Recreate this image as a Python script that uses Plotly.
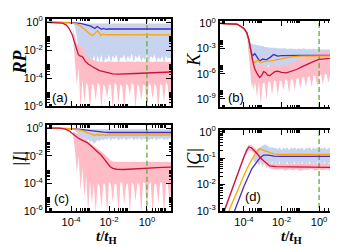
import numpy as np
import plotly.graph_objects as go

# ---------------- data (log10 of t/t_H and log10 of the quantity) ----------------
# common x-grid used by the fluctuation bands (log10 t/t_H)
band_lt = [-3.9,-3.8,-3.7,-3.6,-3.5,-3.4,-3.3,-3.2,-3.1,-3.0,-2.9,-2.8,-2.7,-2.6,-2.5,-2.4,-2.3,-2.2,-2.1,-2.0,
           -1.9,-1.8,-1.7,-1.6,-1.5,-1.4,-1.3,-1.2,-1.1,-1.0,-0.9,-0.8,-0.7,-0.6,-0.5,-0.4,-0.3,-0.2,-0.1,0.0,
           0.1,0.2,0.3,0.4,0.5,0.6,0.7,0.8,0.9,1.0,1.1,1.2,1.3]

# ---- panel (a): RP ----
a_red_lt = [-5.3,-4.7,-4.45,-4.25,-4.1,-3.95,-3.85,-3.73,-3.62,-3.52,-3.45,-3.38,-3.26,-3.1,-2.95,-2.74,-2.5,-2.25,-2.05,-1.8,-1.5,-1.2,-0.9,-0.6,-0.3,0.0,0.3,0.6,0.9,1.27]
a_red_ly = [0.0,-0.01,-0.06,-0.2,-0.45,-0.85,-1.3,-1.9,-2.3,-2.42,-2.42,-2.5,-2.78,-2.98,-3.12,-3.28,-3.45,-3.55,-3.62,-3.68,-3.7,-3.7,-3.68,-3.66,-3.64,-3.62,-3.6,-3.58,-3.57,-3.55]
a_pur_lt = [-5.3,-4.5,-4.0,-3.5,-3.2,-3.0,-2.85,-2.75,-2.62,-2.5,-2.4,-2.3,-2.15,-2.0,-1.0,0.0,1.27]
a_pur_ly = [0.0,-0.01,-0.03,-0.08,-0.16,-0.26,-0.36,-0.45,-0.3,-0.42,-0.5,-0.44,-0.5,-0.48,-0.48,-0.48,-0.48]
a_org_lt = [-5.3,-4.5,-4.0,-3.7,-3.47,-3.2,-3.0,-2.85,-2.7,-2.6,-2.5,-2.42,-2.3,-2.15,-2.0,0.0,1.27]
a_org_ly = [0.0,-0.01,-0.05,-0.12,-0.3,-0.6,-0.85,-0.95,-0.75,-0.6,-0.8,-0.95,-0.85,-0.9,-0.88,-0.88,-0.9]
a_blue_up = [-0.02,-0.02,-0.03,-0.04,-0.05,-0.06,-0.07,-0.08,-0.08,-0.08,-0.08,-0.08,-0.08,-0.08,-0.08,-0.08,-0.08,-0.08,-0.08,-0.08,
             -0.08,-0.08,-0.08,-0.08,-0.08,-0.08,-0.08,-0.08,-0.08,-0.08,-0.08,-0.08,-0.08,-0.08,-0.08,-0.08,-0.08,-0.08,-0.08,-0.08,
             -0.08,-0.08,-0.08,-0.08,-0.08,-0.08,-0.08,-0.08,-0.08,-0.08,-0.08,-0.08,-0.08]
a_blue_lo = [-0.05,-0.3,-0.9,-1.8,-2.6,-1.9,-3.2,-2.3,-3.4,-2.5,-3.0,-2.3,-2.9,-2.4,-2.8,-2.3,-3.1,-2.5,-2.7,-2.3,
             -2.9,-2.4,-2.6,-2.3,-3.0,-2.5,-2.6,-2.3,-2.8,-2.4,-2.7,-2.2,-2.9,-2.4,-2.6,-2.3,-2.8,-2.5,-2.7,-2.3,
             -2.9,-2.4,-2.6,-2.3,-2.8,-2.5,-2.7,-2.4,-2.9,-2.4,-2.6,-2.5,-2.7]
a_pink_up = [-0.5,-1.0,-1.5,-1.7,-1.6,-1.8,-2.1,-2.3,-2.5,-2.6,-2.65,-2.7,-2.75,-2.8,-2.78,-2.82,-2.8,-2.85,-2.8,-2.78,
             -2.82,-2.8,-2.85,-2.8,-2.78,-2.82,-2.8,-2.84,-2.8,-2.78,-2.82,-2.8,-2.85,-2.8,-2.78,-2.82,-2.8,-2.84,-2.8,-2.78,
             -2.82,-2.8,-2.85,-2.8,-2.78,-2.82,-2.8,-2.84,-2.8,-2.82,-2.85,-2.8,-2.85]
a_pink_lo = [-1.0,-2.5,-4.5,-3.2,-6.2,-4.0,-5.8,-4.3,-4.6,-6.2,-4.4,-4.5,-5.6,-4.3,-4.5,-6.2,-4.4,-4.6,-5.4,-4.4,
             -4.5,-6.2,-4.3,-4.5,-5.8,-4.4,-4.6,-6.2,-4.4,-4.5,-5.2,-4.3,-4.5,-6.2,-4.4,-4.6,-5.6,-4.4,-4.5,-6.2,
             -4.3,-4.5,-5.5,-4.4,-4.6,-6.2,-4.4,-4.5,-5.7,-4.3,-4.5,-6.2,-4.5]

# ---- panel (b): K ----
b_red_lt = [-5.3,-4.6,-4.37,-4.2,-4.0,-3.85,-3.74,-3.65,-3.58,-3.5,-3.42,-3.3,-3.16,-3.05,-2.95,-2.85,-2.75,-2.63,-2.5,-2.35,-2.2,-2.0,-1.74,-1.5,-1.2,-0.9,-0.53,-0.25,0.0,0.4,0.74,1.27]
b_red_ly = [0.0,-0.02,-0.1,-0.3,-0.6,-1.1,-1.9,-3.0,-4.0,-4.8,-5.4,-6.0,-6.45,-6.2,-5.75,-5.85,-6.15,-6.25,-6.0,-5.75,-5.7,-5.85,-5.9,-5.75,-5.5,-5.15,-4.75,-4.5,-4.3,-4.2,-4.1,-4.0]
b_pur_lt = [-5.3,-4.6,-4.37,-4.2,-4.0,-3.85,-3.74,-3.65,-3.55,-3.42,-3.3,-3.16,-3.0,-2.8,-2.6,-2.42,-2.2,-2.0,-1.0,0.0,1.27]
b_pur_ly = [0.0,-0.02,-0.1,-0.3,-0.6,-1.1,-1.9,-3.0,-3.9,-3.6,-4.1,-4.5,-4.25,-4.35,-4.05,-3.72,-3.9,-3.85,-3.82,-3.8,-3.8]
b_org_lt = [-5.3,-4.6,-4.37,-4.2,-4.0,-3.85,-3.74,-3.65,-3.55,-3.45,-3.35,-3.25,-3.1,-2.95,-2.8,-2.6,-2.3,-2.0,-1.5,-1.0,0.0,1.27]
b_org_ly = [0.0,-0.02,-0.1,-0.3,-0.6,-1.1,-1.9,-3.0,-4.4,-4.75,-4.5,-4.4,-4.7,-4.6,-4.5,-4.5,-4.35,-4.2,-4.0,-3.9,-3.85,-3.85]
b_blue_up = [-0.9,-1.4,-2.0,-2.4,-2.5,-2.5,-2.6,-2.6,-2.7,-2.7,-2.8,-2.8,-2.85,-2.9,-2.9,-2.95,-2.9,-3.0,-2.95,-3.0,
             -3.0,-2.95,-3.05,-3.0,-3.0,-3.05,-3.0,-3.1,-3.0,-3.05,-3.05,-3.0,-3.1,-3.05,-3.05,-3.1,-3.0,-3.1,-3.05,-3.1,
             -3.1,-3.05,-3.1,-3.1,-3.05,-3.1,-3.1,-3.15,-3.1,-3.1,-3.15,-3.1,-3.1]
b_blue_lo = [-1.1,-2.0,-4.5,-7.7,-5.8,-7.4,-5.5,-6.8,-5.2,-6.3,-5.0,-5.8,-4.9,-5.6,-5.0,-6.0,-5.0,-5.5,-4.9,-5.8,
             -5.0,-5.4,-4.9,-5.9,-5.0,-5.5,-4.8,-5.7,-5.0,-5.3,-4.9,-5.8,-5.0,-5.4,-4.8,-5.6,-5.0,-5.3,-4.9,-5.8,
             -5.0,-5.4,-4.8,-5.6,-5.0,-5.3,-4.9,-5.7,-5.0,-5.4,-4.8,-5.5,-5.0]
b_pink_up = [-1.2,-2.2,-3.5,-4.3,-4.6,-4.9,-5.0,-5.1,-5.1,-5.1,-5.1,-5.2,-5.2,-5.1,-5.1,-5.0,-5.0,-5.0,-5.0,-5.0,
             -5.0,-4.95,-4.9,-4.85,-4.8,-4.7,-4.6,-4.5,-4.4,-4.3,-4.2,-4.1,-4.0,-3.9,-3.8,-3.7,-3.6,-3.55,-3.5,-3.45,
             -3.4,-3.4,-3.35,-3.35,-3.3,-3.3,-3.3,-3.25,-3.25,-3.25,-3.2,-3.2,-3.2]
b_pink_lo = [-1.3,-2.4,-4.2,-6.5,-8.0,-7.0,-8.8,-7.0,-9.7,-7.2,-7.0,-9.2,-6.9,-7.0,-8.5,-6.8,-6.9,-8.6,-6.8,-6.9,
             -8.0,-6.7,-6.8,-8.3,-6.6,-6.7,-8.0,-6.6,-6.5,-7.8,-6.5,-6.4,-7.6,-6.4,-6.3,-7.6,-6.2,-6.3,-7.5,-6.2,
             -6.1,-7.3,-6.0,-6.1,-7.1,-6.0,-5.9,-7.1,-5.9,-6.0,-6.9,-5.9,-6.0]

# ---- panel (c): |I| ----
c_red_lt = [-5.3,-4.6,-4.3,-4.1,-3.95,-3.8,-3.65,-3.5,-3.4,-3.3,-3.15,-2.94,-2.7,-2.42,-2.25,-2.1,-1.95,-1.8,-1.6,-1.2,-0.8,-0.4,0.0,0.4,0.8,1.27]
c_red_ly = [0.0,-0.01,-0.08,-0.2,-0.38,-0.55,-0.7,-0.82,-0.88,-0.92,-1.05,-1.3,-1.6,-1.95,-2.25,-2.55,-2.78,-2.92,-2.98,-3.0,-2.98,-2.95,-2.9,-2.88,-2.85,-2.82]
c_pur_lt = [-5.3,-4.5,-4.0,-3.5,-3.0,-2.7,-2.5,-2.3,-2.0,0.0,1.27]
c_pur_ly = [0.0,-0.01,-0.04,-0.1,-0.2,-0.27,-0.3,-0.3,-0.32,-0.32,-0.32]
c_org_lt = [-5.3,-4.5,-4.0,-3.5,-3.2,-3.0,-2.85,-2.75,-2.62,-2.5,-2.35,-2.2,-2.0,0.0,1.27]
c_org_ly = [0.0,-0.01,-0.05,-0.15,-0.28,-0.38,-0.48,-0.55,-0.45,-0.52,-0.48,-0.52,-0.5,-0.5,-0.5]
c_blue_up = [-0.02,-0.02,-0.03,-0.04,-0.05,-0.06,-0.07,-0.08,-0.08,-0.08,-0.08,-0.08,-0.08,-0.08,-0.08,-0.08,-0.08,-0.08,-0.08,-0.08,
             -0.08,-0.08,-0.08,-0.08,-0.08,-0.08,-0.08,-0.08,-0.08,-0.08,-0.08,-0.08,-0.08,-0.08,-0.08,-0.08,-0.08,-0.08,-0.08,-0.08,
             -0.08,-0.08,-0.08,-0.08,-0.08,-0.08,-0.08,-0.08,-0.08,-0.08,-0.08,-0.08,-0.08]
c_blue_lo = [-0.1,-0.2,-0.3,-0.45,-0.6,-0.8,-0.7,-0.95,-0.8,-1.0,-0.9,-1.15,-1.0,-0.85,-0.95,-0.8,-0.9,-0.75,-0.85,-0.7,
             -0.9,-0.75,-0.8,-0.7,-0.9,-0.75,-0.85,-0.7,-0.9,-0.75,-0.8,-0.7,-0.88,-0.75,-0.85,-0.7,-0.9,-0.75,-0.8,-0.7,
             -0.88,-0.75,-0.85,-0.7,-0.9,-0.75,-0.8,-0.7,-0.88,-0.75,-0.85,-0.72,-0.8]
c_pink_up = [-0.25,-0.3,-0.35,-0.45,-0.55,-0.65,-0.75,-0.85,-0.95,-1.05,-1.15,-1.25,-1.35,-1.45,-1.55,-1.65,-1.8,-1.95,-2.1,-2.25,
             -2.35,-2.42,-2.45,-2.43,-2.46,-2.44,-2.45,-2.43,-2.47,-2.44,-2.45,-2.43,-2.46,-2.44,-2.45,-2.43,-2.46,-2.44,-2.45,-2.43,
             -2.46,-2.44,-2.45,-2.43,-2.46,-2.44,-2.45,-2.43,-2.46,-2.44,-2.45,-2.43,-2.45]
c_pink_lo = [-0.5,-1.5,-3.2,-2.0,-4.5,-2.8,-5.0,-3.5,-6.2,-3.8,-5.5,-4.0,-6.2,-4.0,-4.2,-5.8,-4.0,-4.1,-6.2,-3.9,
             -4.1,-5.4,-4.0,-4.1,-6.2,-3.9,-4.0,-5.6,-4.1,-4.0,-6.2,-3.9,-4.1,-5.3,-4.0,-4.1,-6.2,-3.9,-4.0,-5.7,
             -4.1,-3.9,-6.2,-4.0,-4.1,-5.5,-3.9,-4.0,-6.2,-4.1,-3.9,-5.6,-4.0]

# ---- panel (d): |C| ----
d_red_lt = [-5.3,-4.37,-4.0,-3.85,-3.74,-3.6,-3.45,-3.3,-3.1,-2.95,-2.8,-2.63,-2.3,-1.5,0.0,1.27]
d_red_ly = [-3.5,-1.64,-0.95,-0.7,-0.57,-0.6,-0.7,-0.82,-1.0,-1.1,-1.2,-1.29,-1.32,-1.33,-1.33,-1.35]
d_org_lt = [-5.3,-4.74,-4.26,-3.84,-3.6,-3.4,-3.16,-3.0,-2.8,-2.42,-2.0,0.0,1.27]
d_org_ly = [-4.0,-2.9,-2.1,-1.4,-1.08,-0.82,-0.64,-0.68,-0.76,-0.83,-0.85,-0.85,-0.86]
d_pur_lt = [-5.3,-4.47,-4.0,-3.58,-3.35,-3.21,-3.05,-2.95,-2.7,-2.4,-2.0,0.0,1.27]
d_pur_ly = [-4.5,-2.9,-2.07,-1.4,-1.17,-1.04,-0.93,-0.88,-0.88,-0.92,-0.93,-0.93,-0.93]
d_pink_lt = [-5.3,-5.0,-4.7,-4.4,-4.1,-3.9,-3.75,-3.6,-3.45,-3.3,-3.1,-2.95,-2.8,-2.63,-2.4,-2.2,-2.0,-1.8,-1.6,-1.4,
             -1.2,-1.0,-0.8,-0.6,-0.4,-0.2,0.0,0.2,0.4,0.6,0.8,1.0,1.3]
d_pink_up = [-3.4,-2.8,-2.2,-1.6,-1.02,-0.68,-0.5,-0.5,-0.58,-0.7,-0.9,-1.0,-1.1,-1.18,-1.2,-1.22,-1.18,-1.22,-1.2,-1.24,
             -1.19,-1.21,-1.2,-1.23,-1.18,-1.22,-1.2,-1.21,-1.19,-1.23,-1.2,-1.22,-1.2]
d_pink_lo = [-3.6,-3.0,-2.4,-1.8,-1.22,-0.88,-0.7,-0.72,-0.82,-0.94,-1.1,-1.2,-1.3,-1.38,-1.42,-1.45,-1.4,-1.47,-1.42,-1.46,
             -1.41,-1.48,-1.43,-1.45,-1.4,-1.47,-1.43,-1.46,-1.42,-1.48,-1.43,-1.45,-1.44]
d_blue_up = [-1.0,-1.0,-1.0,-1.0,-0.95,-0.75,-0.65,-0.6,-0.55,-0.5,-0.48,-0.5,-0.55,-0.6,-0.58,-0.62,-0.6,-0.66,-0.58,-0.7,
             -0.6,-0.65,-0.58,-0.7,-0.6,-0.64,-0.58,-0.68,-0.6,-0.65,-0.58,-0.7,-0.6,-0.64,-0.58,-0.68,-0.6,-0.65,-0.58,-0.7,
             -0.6,-0.64,-0.58,-0.68,-0.6,-0.65,-0.58,-0.7,-0.6,-0.64,-0.58,-0.68,-0.62]
d_blue_lo = [-1.0,-1.0,-1.0,-1.0,-1.05,-1.2,-1.1,-1.3,-1.15,-1.35,-1.1,-1.4,-1.15,-1.3,-1.1,-1.4,-1.15,-1.3,-1.1,-1.45,
             -1.15,-1.3,-1.1,-1.4,-1.15,-1.35,-1.1,-1.4,-1.15,-1.3,-1.1,-1.45,-1.15,-1.3,-1.1,-1.4,-1.15,-1.35,-1.1,-1.4,
             -1.15,-1.3,-1.1,-1.45,-1.15,-1.3,-1.1,-1.4,-1.15,-1.35,-1.1,-1.4,-1.2]

t_ref = 1.0  # vertical dashed marker at t = t_H

# tick labels
x_tick_exp = [-4, -2, 0]
ya_tick_exp = [0, -2, -4, -6]
yb_tick_exp = [0, -3, -6, -9]
yd_tick_exp = [0, -1, -2, -3]

# ---------------- styling ----------------
C_RED = "#c8143c"
C_ORG = "#ffa500"
C_PUR = "#4b2db4"
C_BLUE = "#c8d3f0"
C_PINK = "#ffbcc6"
C_GREEN = "#5fb030"

fig = go.Figure()

def L(v):
    return list(10.0 ** np.array(v, dtype=float))

def add_line(ax, lt, ly, color, w=1.3):
    fig.add_trace(go.Scatter(x=L(lt), y=L(ly), mode="lines", line=dict(color=color, width=w),
                             xaxis="x" + ax, yaxis="y" + ax, hoverinfo="skip", showlegend=False))

def add_band(ax, lt, up, lo, color):
    xs = list(lt) + list(lt)[::-1]
    ys = list(up) + list(lo)[::-1]
    fig.add_trace(go.Scatter(x=L(xs), y=L(ys), mode="lines", fill="toself", fillcolor=color,
                             line=dict(width=0, color=color), xaxis="x" + ax, yaxis="y" + ax,
                             hoverinfo="skip", showlegend=False))

def add_ref(ax):
    fig.add_trace(go.Scatter(x=[t_ref, t_ref], y=[1e-12, 10], mode="lines",
                             line=dict(color=C_GREEN, width=1.3, dash="5px,3px"),
                             xaxis="x" + ax, yaxis="y" + ax, hoverinfo="skip", showlegend=False))

panels = [
    ("", a_blue_up, a_blue_lo, a_pink_up, a_pink_lo, (a_pur_lt, a_pur_ly), (a_org_lt, a_org_ly), (a_red_lt, a_red_ly)),
    ("2", b_blue_up, b_blue_lo, b_pink_up, b_pink_lo, (b_pur_lt, b_pur_ly), (b_org_lt, b_org_ly), (b_red_lt, b_red_ly)),
    ("3", c_blue_up, c_blue_lo, c_pink_up, c_pink_lo, (c_pur_lt, c_pur_ly), (c_org_lt, c_org_ly), (c_red_lt, c_red_ly)),
]
for ax, bu, bl, pu, pl, pur, org, red in panels:
    add_band(ax, band_lt, bu, bl, C_BLUE)
    add_band(ax, band_lt, pu, pl, C_PINK)
    add_ref(ax)
    add_line(ax, *pur, C_PUR)
    add_line(ax, *org, C_ORG)
    add_line(ax, *red, C_RED)

add_band("4", band_lt, d_blue_up, d_blue_lo, C_BLUE)
add_band("4", d_pink_lt, d_pink_up, d_pink_lo, C_PINK)
add_ref("4")
add_line("4", d_pur_lt, d_pur_ly, C_PUR)
add_line("4", d_org_lt, d_org_ly, C_ORG)
add_line("4", d_red_lt, d_red_ly, C_RED)

W, H = 338, 247
def px_x(a, b):
    return [a / W, b / W]
def px_y(top, bottom):
    return [1 - bottom / H, 1 - top / H]

tickfont = dict(family="Liberation Sans, Arial, sans-serif", size=11, color="black")

def minor_vals(exps):
    return [k * 10.0 ** e for e in exps for k in range(2, 10)]

def xcfg(domain, anchor, labels):
    return dict(type="log", domain=domain, anchor=anchor, range=[-5.27, 1.27],
                tickmode="array", tickvals=[10.0 ** e for e in x_tick_exp],
                ticktext=["10<sup>%d</sup>" % e for e in x_tick_exp],
                showticklabels=labels, ticks="inside", ticklen=5, tickwidth=1.2, tickcolor="black",
                showline=True, linecolor="black", linewidth=2, mirror="ticks",
                showgrid=False, zeroline=False, tickfont=tickfont,
                minor=dict(tickmode="array", tickvals=minor_vals([-6, -4, -2, 0]), ticks="inside",
                           ticklen=2.5, tickwidth=1, tickcolor="black", showgrid=False))

def ycfg(domain, anchor, rng, exps, minor_exps):
    return dict(type="log", domain=domain, anchor=anchor, range=rng,
                tickmode="array", tickvals=[10.0 ** e for e in exps],
                ticktext=["10<sup>%d</sup>" % e for e in exps],
                ticks="inside", ticklen=5, tickwidth=1.2, tickcolor="black",
                showline=True, linecolor="black", linewidth=2, mirror="ticks",
                showgrid=False, zeroline=False, tickfont=tickfont,
                minor=dict(tickmode="array", tickvals=minor_vals(minor_exps), ticks="inside",
                           ticklen=2.5, tickwidth=1, tickcolor="black", showgrid=False))

xl = px_x(39, 163)
xr = px_x(212, 335)
fig.update_layout(
    width=W, height=H, margin=dict(l=0, r=0, t=0, b=0),
    paper_bgcolor="white", plot_bgcolor="white", showlegend=False,
    xaxis=xcfg(xl, "y", False),
    yaxis=ycfg(px_y(5, 97), "x", [-6, 0.25], ya_tick_exp, [-6, -4, -2]),
    xaxis2=xcfg(xr, "y2", False),
    yaxis2=ycfg(px_y(7, 98), "x2", [-10, 0.33], yb_tick_exp, [-9, -6, -3]),
    xaxis3=xcfg(xl, "y3", True),
    yaxis3=ycfg(px_y(117, 207), "x3", [-6, 0.2], ya_tick_exp, [-6, -4, -2]),
    xaxis4=xcfg(xr, "y4", True),
    yaxis4=ycfg(px_y(122, 207), "x4", [-3, 0.07], yd_tick_exp, [-3, -2, -1]),
)

serif = "Liberation Serif, Times New Roman, serif"
sans = "Liberation Sans, Arial, sans-serif"
def ann(text, x, y, size, family, angle=0):
    fig.add_annotation(text=text, x=x / W, y=1 - y / H, xref="paper", yref="paper",
                       showarrow=False, textangle=angle, font=dict(family=family, size=size, color="black"),
                       xanchor="center", yanchor="middle")

ann("<b><i>RP</i></b>", 12, 51, 18, serif, -90)
ann("<i>K</i>", 186, 48, 18, serif, -90)
ann("<i>|I|</i>", 12, 152, 18, serif, -90)
ann("<i>|C|</i>", 186, 152, 18, serif, -90)
ann("<b><i>t</i>/<i>t</i><sub>H</sub></b>", 98, 234, 15, serif)
ann("<b><i>t</i>/<i>t</i><sub>H</sub></b>", 283, 234, 15, serif)
ann("(a)", 52, 88, 13, sans)
ann("(b)", 228, 88, 13, sans)
ann("(c)", 53, 194, 13, sans)
ann("(d)", 245, 192, 13, sans)

fig.write_html("out.html")
